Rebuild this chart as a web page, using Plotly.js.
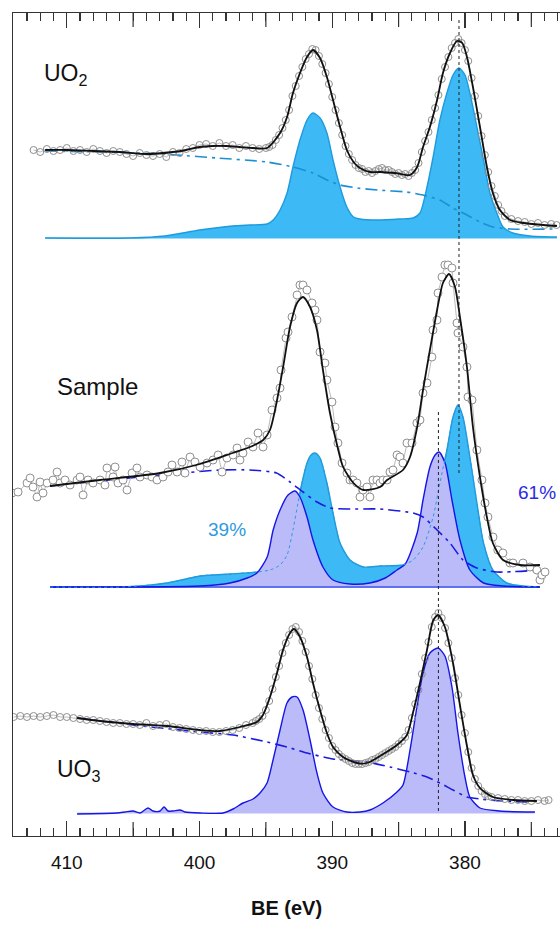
<!DOCTYPE html>
<html>
<head>
<meta charset="utf-8">
<script src="https://cdn.plot.ly/plotly-3.0.1.min.js"></script>
<style>html,body{margin:0;padding:0;background:#fff;}#chart{width:560px;height:926px;}</style>
</head>
<body>
<div id="chart"></div>
<script>
// ---------- UO2 reference panel ----------
const uo2DataBE = [412.5,412.0,411.5,411.0,410.5,410.0,409.5,409.0,408.5,408.0,407.5,407.0,406.5,406.0,405.5,405.0,404.5,404.0,403.5,403.0,402.5,402.0,401.5,401.0,400.5,400.0,399.5,399.0,398.5,398.0,397.5,397.0,396.5,396.0,395.5,395.0,
394.75,394.5,394.25,394.0,393.75,393.5,393.25,393.0,392.75,392.5,392.25,392.0,391.75,391.5,391.25,391.0,390.75,390.5,390.25,390.0,389.75,389.5,389.25,389.0,388.75,388.5,388.25,388.0,387.75,387.5,387.25,387.0,386.75,386.5,386.25,386.0,385.75,385.5,385.25,385.0,384.75,384.5,384.25,384.0,383.75,383.5,383.25,383.0,382.75,382.5,382.25,382.0,381.75,381.5,381.25,381.0,380.75,380.5,380.25,380.0,379.75,379.5,379.25,379.0,378.75,378.5,378.25,378.0,377.75,377.5,377.25,377.0,
376.5,376.0,375.5,375.0,374.5,374.0,373.5,373.1];
const uo2DataI = [686,684,687,685,686,688,685,686,684,687,685,683,685,684,682,680,683,681,680,682,679,684,683,687,688,691,692,690,693,690,691,688,690,688,687,688,
689,691,696,701,708,716,726,740,750,760,769,777,782,787,786,780,772,763,752,739,726,713,701,690,682,676,671,668,667,664,665,663,665,667,668,666,666,664,662,663,661,662,660,663,666,673,684,695,704,716,728,741,757,769,779,788,793,797,793,786,775,758,740,720,700,681,664,650,640,631,625,620,
617,615,614,612,613,611,612,611];
const uo2FitBE = [411.63,410.0,408.0,406.0,404.0,402.0,401.0,400.0,399.0,398.0,397.0,396.0,394.9,393.93,393.4,392.96,392.43,391.9,391.45,390.92,390.4,389.94,389.41,388.9,388.4,387.91,387.16,386.4,385.27,384.14,383.6,383.16,382.64,382.1,381.66,381.13,380.6,380.2,379.85,379.4,378.87,378.35,377.9,377.37,376.6,375.6,374.1,373.07];
const uo2FitI = [686,686,685,684,682,684,686,689,690,690,689,688,688,703,719,743,763,779,786,778,759,736,709,686,674,668,664,664,663,661,669,689,709,736,763,783,795,793,779,749,709,669,643,626,616,613,611,610];
const uo2BkgBE = [411.63,407.5,404.5,401.7,398.7,394.9,392.96,391.45,390.4,389.41,388.1,386.6,384.4,383.16,381.9,380.9,379.85,378.87,377.9,376.6,373.07];
const uo2BkgI = [685,684,683,681,678,674,669,663,656,651,648,646,644,641,636,628,621,614,609,607,607];
const uo2CompBE = [411.63,405.2,402.6,399.96,397.5,396.2,394.9,394.45,393.93,393.4,392.96,392.43,391.9,391.45,390.92,390.4,389.94,389.41,388.9,388.4,387.91,386.6,384.9,383.9,383.39,382.86,382.4,381.89,381.36,380.9,380.45,380.0,379.63,379.1,378.6,378.12,377.6,377.13,376.4,375.1,373.07];
const uo2CompI = [598,598,600,606,610,611,612,616,626,643,669,696,716,723,718,703,676,649,629,619,617,616,617,618,623,649,679,716,743,761,768,761,743,709,676,643,623,609,603,600,599];
const uo2BaseBE = [411.63,373.07];
const uo2BaseI = [598,598];

// ---------- Sample panel ----------
const smpDataBE = [414.12,413.67,412.99,412.76,412.54,412.24,412.01,411.79,411.48,411.03,410.73,410.50,410.13,409.75,409.22,409.00,408.77,408.40,408.02,407.49,407.12,406.97,406.51,406.36,406.14,405.76,405.46,405.08,404.71,404.48,403.95,403.58,403.20,402.75,402.37,402.07,401.69,401.32,401.09,400.71,400.34,399.96,399.43,398.98,398.60,398.30,397.93,397.47,397.17,396.95,396.72,396.34,395.97,395.59,395.21,394.91,394.54,394.16,393.93,393.86,393.48,393.33,393.03,392.65,392.43,392.20,391.90,391.52,391.30,391.15,390.92,390.55,390.40,390.02,389.79,389.57,389.26,388.89,388.66,388.44,388.14,387.91,387.68,387.38,387.16,386.93,386.63,386.40,386.18,385.87,385.65,385.42,385.12,384.90,384.67,384.37,383.99,383.62,383.39,383.16,382.86,382.49,382.41,382.11,382.03,381.73,381.51,381.28,380.98,380.90,380.60,380.53,380.15,379.85,379.77,379.47,379.10,378.72,378.49,378.27,377.89,377.53,377.14,376.61,376.38,375.63,375.10,374.58,374.35,374.20,373.97];
const smpDataI = [343,344,353,358,349,339,354,343,353,356,364,353,356,351,356,359,341,356,353,356,351,368,359,369,353,356,346,363,368,359,361,359,356,359,364,371,364,374,363,379,374,369,373,376,381,364,378,381,388,376,383,394,389,403,389,401,426,438,448,466,498,504,519,541,551,551,546,533,526,516,484,473,456,434,409,393,373,363,356,356,353,339,346,349,339,356,356,353,356,356,364,366,381,379,373,393,393,413,416,443,453,479,506,516,543,559,571,571,568,553,513,503,489,469,439,436,386,356,333,319,299,286,283,273,273,273,269,266,256,261,264];
const smpFitBE = [411.26,407.49,402.97,399.96,397.5,396.2,395.2,394.69,394.2,393.7,393.18,392.65,392.2,391.67,391.15,390.7,390.17,389.6,389.18,388.4,387.66,386.4,385.87,384.67,384.14,383.6,383.16,382.64,382.1,381.66,381.2,380.75,380.38,379.85,379.4,378.87,378.35,377.9,377.13,375.86,374.35];
const smpFitI = [350,356,363,372,383,389,396,406,433,469,509,533,539,529,506,466,423,389,369,353,346,349,356,366,379,409,446,486,526,553,562,549,519,469,409,359,319,293,276,271,271];
const smpBkgBE = [411.26,407.49,402.97,398.45,396.2,394.2,393.18,392.2,391.15,390.17,388.66,386.4,383.9,383.16,382.1,381.13,380.15,379.1,377.6,374.35];
const smpBkgI = [350,355,361,366,366,363,354,344,334,328,327,327,323,319,306,293,276,268,264,266];
const smpUO2BE = [411.26,405.75,402.44,399.96,397.7,395.67,394.69,393.93,393.4,392.96,392.58,392.28,391.9,391.6,391.3,390.92,390.4,389.94,389.41,388.66,387.66,386.4,384.67,383.9,383.16,382.4,381.89,381.36,380.9,380.53,380.15,379.63,379.1,378.6,377.9,376.84,375.64,374.35];
const smpUO2I = [249,249,253,260,262,264,266,271,281,306,333,353,373,381,383,378,353,323,293,276,269,270,271,276,289,319,353,386,419,431,419,379,333,293,266,253,250,249];
const smpUO3BE = [411.26,399.96,397.7,396.4,395.67,394.9,394.45,393.93,393.33,392.8,392.43,391.9,391.45,390.7,389.94,388.66,387.16,386.0,385.12,384.5,383.6,383.16,382.64,382.25,381.95,381.5,380.98,380.38,379.63,378.6,377.1,374.35];
const smpUO3I = [249,250,253,258,263,279,306,326,341,345,339,319,296,269,256,252,253,258,266,272,303,336,369,381,384,373,336,296,266,253,250,249];
const smpBaseBE = [411.26,374.35];
const smpBaseI = [249,249];

// ---------- UO3 reference panel ----------
const uo3DataBE = [414.0,413.5,413.0,412.5,412.0,411.5,411.0,410.5,410.0,409.5,409.0,408.5,408.0,407.5,407.0,406.5,406.0,405.5,405.0,404.5,404.0,403.5,403.0,402.5,402.0,401.5,401.0,400.5,400.0,399.5,399.0,398.5,398.0,397.5,397.0,396.5,396.0,
395.75,395.5,395.25,395.0,394.75,394.5,394.25,394.0,393.75,393.5,393.25,393.0,392.75,392.5,392.25,392.0,391.75,391.5,391.25,391.0,390.75,390.5,390.25,390.0,389.75,389.5,389.25,389.0,388.75,388.5,388.25,388.0,387.75,387.5,387.25,387.0,386.75,386.5,386.25,386.0,385.75,385.5,385.25,385.0,384.75,384.5,384.25,384.0,383.75,383.5,383.25,383.0,382.75,382.5,382.25,382.0,381.75,381.5,381.25,381.0,380.75,380.5,380.25,380.0,379.75,379.5,379.25,379.0,378.75,378.5,378.25,378.0,
377.5,377.0,376.5,376.0,375.5,375.0,374.5,374.0,373.7];
const uo3DataI = [119,120,119,120,119,120,121,119,119,118,117,116,116,115,114,113,113,112,112,111,113,110,111,112,109,108,107,106,105,105,104,104,105,106,108,111,113,
115,117,120,126,135,147,159,170,183,193,201,207,209,204,195,184,170,157,141,128,117,106,98,90,86,82,79,77,75,73,72,72,72,73,74,76,77,79,81,83,85,87,89,92,95,99,106,118,132,146,162,178,194,209,219,223,218,208,193,178,158,141,121,103,84,68,57,50,45,42,40,39,
38,37,36,36,35,35,36,35,36];
const uo3FitBE = [409.22,407.49,405.01,402.45,399.96,398.45,396.95,395.67,395.22,394.69,394.16,393.71,393.18,392.88,392.43,391.9,391.45,390.92,390.4,389.94,389.19,388.14,387.38,386.4,385.12,384.37,383.92,383.39,382.86,382.41,382.03,381.51,380.9,380.38,379.85,379.4,378.87,377.89,376.38,374.58];
const uo3FitI = [118,115,112,110,106,105,109,114,121,139,163,186,203,207,199,179,153,126,103,89,79,73,73,80,91,101,123,153,186,215,221,209,173,131,90,61,48,39,36,35];
const uo3BkgBE = [409.22,405.01,399.96,397.47,394.91,393.41,391.9,389.94,387.38,385.65,384.14,382.86,381.89,380.9,379.85,378.87,377.14,375.33];
const uo3BkgI = [118,111,104,101,94,89,83,77,74,69,64,59,53,46,39,37,35,34];
const uo3CompBE = [409.22,406.21,405.61,405.01,404.48,403.88,403.5,402.97,402.67,402.37,401.99,401.47,401.09,399.96,398.23,397.47,396.72,395.97,395.44,394.91,394.46,393.93,393.41,393.03,392.65,392.2,391.67,391.15,390.7,389.94,388.89,387.91,387.16,386.18,385.12,384.67,384.14,383.62,383.16,382.64,382.03,381.51,380.98,380.53,380.0,379.63,378.87,377.37,374.73];
const uo3CompI = [22,23,24,25,23,28,25,25,29,25,25,26,24,23,23,27,33,37,43,53,76,106,133,139,139,126,96,63,43,29,24,24,26,33,44,51,86,129,163,183,188,180,149,103,59,39,28,25,24];
const uo3BaseBE = [409.22,374.73];
const uo3BaseI = [23,23];

// ---------- reference lines, ticks and labels ----------
const refUO2BE = [380.45, 380.45];
const refUO2I = [816, 363];
const refUO3BE = [382.0, 382.0];
const refUO3I = [424, 23];
const labelTicks = [380, 390, 400, 410];
const halfTicks = [375, 385, 395, 405];
const panelLabels = ['UO<sub>2</sub>','Sample','UO<sub>3</sub>'];
const panelLabelBE = [411.86, 410.88, 410.88];
const panelLabelI = [762, 450, 66];
const pctLabels = ['39%','61%'];
const pctBE = [397.93, 374.58];
const pctI = [307, 344];

const FONT = 'Arial, "Liberation Sans", sans-serif';
const LBLUE = '#3DB9F5', LBLUE_EDGE = '#1E9BDC';
const LAV = '#BBBBF9', LAV_EDGE = '#1515E6';
const GRAY = '#8f8f8f';
const DASHDOT = '12px,5px,3px,5px';
const XRANGE = [414.05, 372.84];
const PLOT_H = 823; // plot area height in px
const HALF_TICK_LEN = 14;

function base(x, y, c){ return {x:x, y:y, mode:'lines', line:{color:c, width:1}, hoverinfo:'skip', showlegend:false}; }
function comp(x, y, fillc, edge){ return {x:x, y:y, mode:'lines', fill:'tonexty', fillcolor:fillc, line:{color:edge, width:1.4, shape:'spline', smoothing:0.7}, showlegend:false}; }
function bkg(x, y, c){ return {x:x, y:y, mode:'lines', line:{color:c, width:1.6, dash:DASHDOT, shape:'spline', smoothing:0.6}, showlegend:false}; }
function dat(x, y, sym, sz){ return {x:x, y:y, mode:'lines+markers', line:{color:'#a8a8a8', width:0.8}, marker:{symbol:sym, size:sz, color:(sym==='circle'?'#ffffff':GRAY), line:{color:GRAY, width:1}}, showlegend:false}; }
function fit(x, y){ return {x:x, y:y, mode:'lines', line:{color:'#111', width:1.8, shape:'spline', smoothing:0.7}, showlegend:false}; }
function vline(x, y){ return {x:x, y:y, mode:'lines', line:{color:'#222', width:1, dash:'dot'}, showlegend:false}; }

const traces = [
  base(uo2BaseBE, uo2BaseI, LBLUE),
  comp(uo2CompBE, uo2CompI, LBLUE, LBLUE_EDGE),
  bkg(uo2BkgBE, uo2BkgI, '#1b8fd6'),
  dat(uo2DataBE, uo2DataI, 'circle-open', 7),
  fit(uo2FitBE, uo2FitI),

  base(smpBaseBE, smpBaseI, LBLUE),
  comp(smpUO2BE, smpUO2I, LBLUE, LBLUE_EDGE),
  base(smpBaseBE, smpBaseI, LAV_EDGE),
  comp(smpUO3BE, smpUO3I, LAV, LAV_EDGE),
  {x:smpUO2BE, y:smpUO2I, mode:'lines', line:{color:'#2a9ae0', width:1, dash:'dot', shape:'spline', smoothing:0.7}, showlegend:false},
  bkg(smpBkgBE, smpBkgI, '#1a1ae0'),
  dat(smpDataBE, smpDataI, 'circle', 8),
  fit(smpFitBE, smpFitI),

  base(uo3BaseBE, uo3BaseI, LAV),
  comp(uo3CompBE, uo3CompI, LAV, LAV_EDGE),
  bkg(uo3BkgBE, uo3BkgI, '#1a1ae0'),
  dat(uo3DataBE, uo3DataI, 'circle-open', 7),
  fit(uo3FitBE, uo3FitI),

  vline(refUO2BE, refUO2I),
  vline(refUO3BE, refUO3I)
];

const annotations = [];
for (let i = 0; i < panelLabels.length; i++) {
  annotations.push({x:panelLabelBE[i], y:panelLabelI[i], xref:'x', yref:'y', text:panelLabels[i], showarrow:false, xanchor:'left', yanchor:'middle', font:{family:FONT, size:(i===1?24:23), color:'#111'}});
}
const pctColors = ['#2f9ae0', '#2a2ae6'];
for (let i = 0; i < pctLabels.length; i++) {
  annotations.push({x:pctBE[i], y:pctI[i], xref:'x', yref:'y', text:pctLabels[i], showarrow:false, xanchor:'center', yanchor:'middle', font:{family:FONT, size:19, color:pctColors[i]}});
}

// half-decade (5 eV) tick marks, bottom and top, as axis decorations
const shapes = [];
const f = HALF_TICK_LEN / PLOT_H;
halfTicks.forEach(v => {
  shapes.push({type:'line', xref:'x', yref:'paper', x0:v, x1:v, y0:0, y1:f, line:{color:'#333', width:1.2}});
  shapes.push({type:'line', xref:'x', yref:'paper', x0:v, x1:v, y0:1, y1:1 - f, line:{color:'#333', width:1.2}});
});

const layout = {
  width:560, height:926,
  margin:{l:13, r:0, t:13, b:90},
  paper_bgcolor:'#fff', plot_bgcolor:'#fff',
  showlegend:false,
  font:{family:FONT, color:'#111'},
  xaxis:{
    range:XRANGE, showline:true, linecolor:'#333', linewidth:1.3, mirror:'allticks',
    ticks:'inside', ticklen:15, tickwidth:1.2, tickcolor:'#333',
    tickmode:'array', tickvals:labelTicks,
    tickfont:{family:FONT, size:19, color:'#111'}, ticklabelstandoff:9,
    minor:{ticks:'inside', ticklen:8, tickwidth:1.2, tickcolor:'#333', tickmode:'linear', tick0:0, dtick:1, showgrid:false},
    showgrid:false, zeroline:false,
    title:{text:'<b>BE (eV)</b>', font:{family:FONT, size:20, color:'#111'}, standoff:29}
  },
  yaxis:{range:[0, PLOT_H], showline:true, linecolor:'#333', linewidth:1.3, ticks:'', showticklabels:false, showgrid:false, zeroline:false},
  annotations:annotations,
  shapes:shapes
};

Plotly.newPlot('chart', traces, layout, {staticPlot:true, displayModeBar:false}).then(gd => {
  // drop the empty placeholder text nodes Plotly leaves for unused titles
  gd.querySelectorAll('svg text').forEach(t => { if (!t.textContent.trim()) t.remove(); });
});
</script>
</body>
</html>
